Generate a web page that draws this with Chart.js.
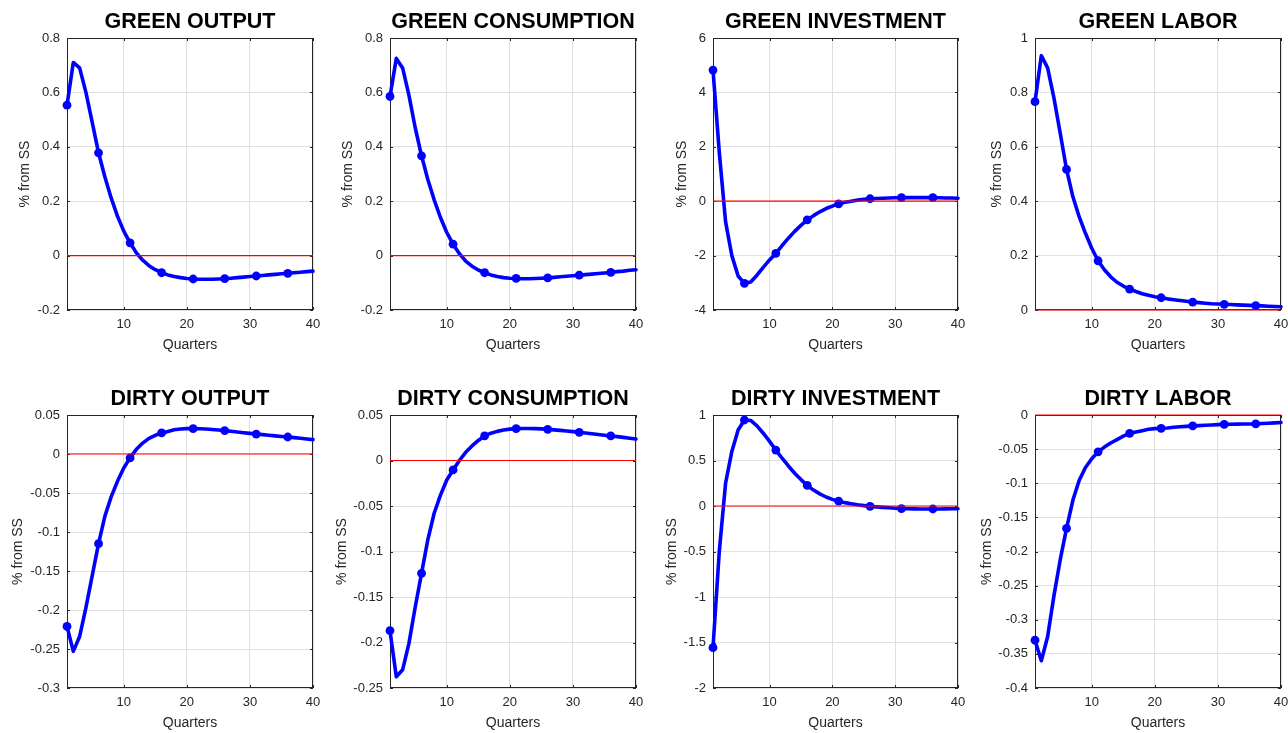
<!DOCTYPE html>
<html>
<head>
<meta charset="utf-8">
<script src="https://cdn.jsdelivr.net/npm/chart.js@4.4.1/dist/chart.umd.min.js"></script>
<style>
  body { margin: 0; background: #fff; width: 1288px; height: 733px; overflow: hidden; position: relative; }
  canvas { position: absolute; }
</style>
</head>
<body>
<script>
// x axis: quarters after the shock
const quarters = [1, 2, 3, 4, 5, 6, 7, 8, 9, 10, 11, 12, 13, 14, 15, 16, 17, 18, 19, 20,
  21, 22, 23, 24, 25, 26, 27, 28, 29, 30, 31, 32, 33, 34, 35, 36, 37, 38, 39, 40];
const markerQuarters = [1, 6, 11, 16, 21, 26, 31, 36];
const xTicks = [10, 20, 30, 40];
const zeroX = [1, 40];
const zeroY = [0, 0];

// impulse responses, % from steady state
const greenOutput = [0.553, 0.71, 0.69, 0.60, 0.49, 0.378, 0.29, 0.212, 0.145, 0.09, 0.047, 0.01, -0.017, -0.037, -0.052, -0.063,
  -0.071, -0.077, -0.081, -0.084, -0.086, -0.087, -0.087, -0.087, -0.086, -0.085, -0.083, -0.081, -0.079, -0.077,
  -0.075, -0.073, -0.071, -0.069, -0.067, -0.065, -0.063, -0.061, -0.059, -0.057];
const greenConsumption = [0.585, 0.725, 0.69, 0.59, 0.47, 0.367, 0.28, 0.205, 0.14, 0.085, 0.042, 0.007, -0.02, -0.039, -0.053, -0.063,
  -0.071, -0.077, -0.081, -0.083, -0.084, -0.085, -0.085, -0.084, -0.083, -0.082, -0.080, -0.078, -0.076, -0.074,
  -0.072, -0.070, -0.068, -0.066, -0.064, -0.062, -0.059, -0.057, -0.054, -0.052];
const greenInvestment = [4.82, 1.8, -0.75, -2.0, -2.75, -3.02, -2.97, -2.72, -2.43, -2.16, -1.92, -1.63, -1.36, -1.11, -0.89, -0.69,
  -0.53, -0.39, -0.27, -0.18, -0.10, -0.04, 0.0, 0.04, 0.07, 0.09, 0.10, 0.11, 0.12, 0.125,
  0.13, 0.13, 0.13, 0.13, 0.13, 0.13, 0.125, 0.12, 0.115, 0.11];
const greenLabor = [0.766, 0.935, 0.89, 0.78, 0.65, 0.517, 0.417, 0.343, 0.282, 0.227, 0.181, 0.148, 0.122, 0.102, 0.088, 0.077,
  0.068, 0.060, 0.054, 0.049, 0.045, 0.041, 0.038, 0.035, 0.032, 0.029, 0.027, 0.025, 0.023, 0.022,
  0.021, 0.020, 0.019, 0.018, 0.017, 0.016, 0.015, 0.014, 0.013, 0.012];
const dirtyOutput = [-0.221, -0.253, -0.234, -0.197, -0.156, -0.115, -0.08, -0.055, -0.035, -0.018, -0.005, 0.006, 0.014, 0.020, 0.024, 0.027,
  0.029, 0.031, 0.032, 0.0325, 0.0325, 0.0324, 0.032, 0.0315, 0.0308, 0.030, 0.0291, 0.0282, 0.0273, 0.0264,
  0.0256, 0.0248, 0.0240, 0.0232, 0.0225, 0.0218, 0.0210, 0.0202, 0.0193, 0.0184];
const dirtyConsumption = [-0.187, -0.2376, -0.23, -0.201, -0.161, -0.124, -0.087, -0.058, -0.038, -0.0214, -0.0104, 0.0, 0.009, 0.016, 0.022, 0.027,
  0.030, 0.032, 0.0335, 0.0345, 0.035, 0.0352, 0.0352, 0.035, 0.0347, 0.0343, 0.0337, 0.0331, 0.0324, 0.0317,
  0.031, 0.0302, 0.0294, 0.0286, 0.0278, 0.027, 0.0262, 0.0254, 0.0245, 0.0236];
const dirtyInvestment = [-1.557, -0.5, 0.25, 0.6, 0.835, 0.945, 0.94, 0.88, 0.8, 0.71, 0.615, 0.525, 0.44, 0.36, 0.29, 0.227,
  0.175, 0.133, 0.099, 0.073, 0.053, 0.037, 0.024, 0.013, 0.004, -0.004, -0.01, -0.015, -0.02, -0.025,
  -0.028, -0.03, -0.032, -0.033, -0.033, -0.033, -0.033, -0.032, -0.031, -0.03];
const dirtyLabor = [-0.33, -0.36, -0.325, -0.265, -0.212, -0.166, -0.125, -0.096, -0.077, -0.064, -0.054, -0.047, -0.041, -0.036, -0.031, -0.027,
  -0.025, -0.023, -0.021, -0.020, -0.0195, -0.019, -0.018, -0.0172, -0.0166, -0.016, -0.0155, -0.015, -0.0146, -0.0141,
  -0.0137, -0.0135, -0.0133, -0.0132, -0.0131, -0.013, -0.0125, -0.012, -0.0115, -0.011];

// y tick labels of each panel
const greenOutputTicks = [-0.2, 0, 0.2, 0.4, 0.6, 0.8];
const greenConsumptionTicks = [-0.2, 0, 0.2, 0.4, 0.6, 0.8];
const greenInvestmentTicks = [-4, -2, 0, 2, 4, 6];
const greenLaborTicks = [0, 0.2, 0.4, 0.6, 0.8, 1];
const dirtyOutputTicks = [-0.3, -0.25, -0.2, -0.15, -0.1, -0.05, 0, 0.05];
const dirtyConsumptionTicks = [-0.25, -0.2, -0.15, -0.1, -0.05, 0, 0.05];
const dirtyInvestmentTicks = [-2, -1.5, -1, -0.5, 0, 0.5, 1];
const dirtyLaborTicks = [-0.4, -0.35, -0.3, -0.25, -0.2, -0.15, -0.1, -0.05, 0];

const titles = ["GREEN OUTPUT", "GREEN CONSUMPTION", "GREEN INVESTMENT", "GREEN LABOR",
  "DIRTY OUTPUT", "DIRTY CONSUMPTION", "DIRTY INVESTMENT", "DIRTY LABOR"];
const series = [greenOutput, greenConsumption, greenInvestment, greenLabor,
  dirtyOutput, dirtyConsumption, dirtyInvestment, dirtyLabor];
const yTicks = [greenOutputTicks, greenConsumptionTicks, greenInvestmentTicks, greenLaborTicks,
  dirtyOutputTicks, dirtyConsumptionTicks, dirtyInvestmentTicks, dirtyLaborTicks];

// placement of the subplots on the page
const colLeft = [0, 323, 646, 968];
const colWidth = [328, 328, 327, 328];
const rowTop = [0, 377];
const rowHeight = [355, 356];
const ylabelGap = [42, 42, 31, 38, 49, 48, 41, 48];
const font = "'Liberation Sans', Arial, Helvetica, sans-serif";

// matlab style box with small inward ticks
const boxPlugin = {
  id: "box",
  beforeDatasetsDraw(chart) {
    const a = chart.chartArea;
    const ctx = chart.ctx;
    const sx = chart.scales.x;
    const sy = chart.scales.y;
    ctx.save();
    ctx.strokeStyle = "#262626";
    ctx.lineWidth = 1;
    ctx.beginPath();
    sx.ticks.forEach(t => {
      let px = Math.round(sx.getPixelForValue(t.value)) + 0.5;
      ctx.moveTo(px, a.bottom); ctx.lineTo(px, a.bottom - 3);
      ctx.moveTo(px, a.top); ctx.lineTo(px, a.top + 3);
    });
    sy.ticks.forEach(t => {
      let py = Math.round(sy.getPixelForValue(t.value)) + 0.5;
      ctx.moveTo(a.left, py); ctx.lineTo(a.left + 3, py);
      ctx.moveTo(a.right, py); ctx.lineTo(a.right - 3, py);
    });
    ctx.stroke();
    ctx.strokeRect(a.left + 0.5, a.top + 0.5, a.right - a.left - 1, a.bottom - a.top - 1);
    ctx.restore();
  }
};

for (let i = 0; i < 8; i++) {
  let row = Math.floor(i / 4);
  let col = i % 4;
  let canvas = document.createElement("canvas");
  canvas.width = colWidth[col];
  canvas.height = rowHeight[row];
  canvas.style.left = colLeft[col] + "px";
  canvas.style.top = rowTop[row] + "px";
  document.body.appendChild(canvas);

  let values = series[i];
  let ticks = yTicks[i];
  let points = quarters.map((q, j) => ({ x: q, y: values[j] }));
  let zero = zeroX.map((q, j) => ({ x: q, y: zeroY[j] }));

  new Chart(canvas, {
    type: "line",
    data: {
      datasets: [
        {
          data: zero,
          borderColor: "#ff0000",
          borderWidth: 1.2,
          pointRadius: 0,
          clip: false
        },
        {
          data: points,
          borderColor: "#0000ff",
          borderWidth: 3.6,
          borderJoinStyle: "round",
          borderCapStyle: "round",
          tension: 0,
          pointRadius: ctx => markerQuarters.includes(quarters[ctx.dataIndex]) ? 4.4 : 0,
          pointBackgroundColor: "#0000ff",
          pointBorderWidth: 0,
          clip: false
        }
      ]
    },
    options: {
      responsive: false,
      animation: false,
      devicePixelRatio: 1,
      layout: { padding: { left: 0, right: 15, top: 0, bottom: 0 } },
      plugins: {
        legend: { display: false },
        tooltip: { enabled: false },
        title: {
          display: true,
          fullSize: false,
          text: titles[i],
          color: "#000",
          font: { family: font, size: 21.5, weight: "bold" },
          padding: { top: 9.5, bottom: 2.7 }
        }
      },
      scales: {
        x: {
          type: "linear",
          min: 1,
          max: 40,
          afterBuildTicks: s => { s.ticks = xTicks.map(v => ({ value: v })); },
          afterFit: s => { s.height = 45; },
          grid: { color: "#dfdfdf", drawTicks: false },
          border: { display: false },
          ticks: { color: "#262626", font: { family: font, size: 13 }, padding: 7, maxRotation: 0, callback: v => String(v) },
          title: { display: true, text: "Quarters", color: "#262626", font: { family: font, size: 14 }, padding: { top: 0, bottom: 1.6 } }
        },
        y: {
          type: "linear",
          min: ticks[0],
          max: ticks[ticks.length - 1],
          afterBuildTicks: s => { s.ticks = ticks.map(v => ({ value: v })); },
          afterFit: s => { s.width = 67; },
          grid: { color: "#dfdfdf", drawTicks: false },
          border: { display: false },
          ticks: { color: "#262626", font: { family: font, size: 13 }, padding: 7, callback: v => String(v) },
          title: { display: true, text: "% from SS", color: "#262626", font: { family: font, size: 14 }, padding: { top: 67 - ylabelGap[i] - 8.4, bottom: 0 } }
        }
      }
    },
    plugins: [boxPlugin]
  });
}
</script>
</body>
</html>
